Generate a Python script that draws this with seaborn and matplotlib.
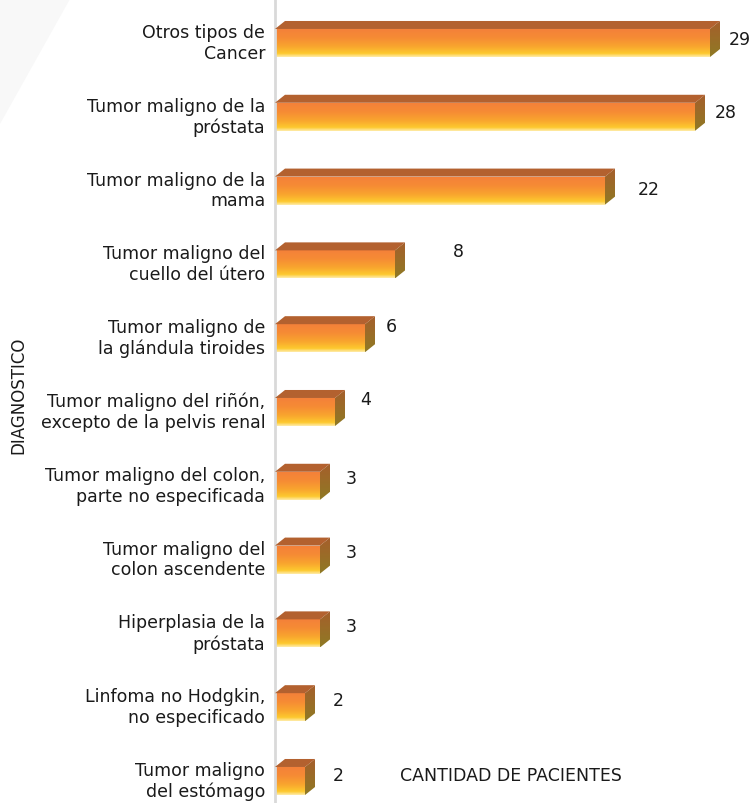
import numpy as np
import matplotlib
matplotlib.use("Agg")
import matplotlib.pyplot as plt
import matplotlib.transforms as mtransforms
from matplotlib.patches import Polygon
from matplotlib.colors import LinearSegmentedColormap
import seaborn as sns
import pandas as pd

# data
diagnosticos = [
    "Otros tipos de\nCancer",
    "Tumor maligno de la\npróstata",
    "Tumor maligno de la\nmama",
    "Tumor maligno del\ncuello del útero",
    "Tumor maligno de\nla glándula tiroides",
    "Tumor maligno del riñón,\nexcepto de la pelvis renal",
    "Tumor maligno del colon,\nparte no especificada",
    "Tumor maligno del\ncolon ascendente",
    "Hiperplasia de la\npróstata",
    "Linfoma no Hodgkin,\nno especificado",
    "Tumor maligno\ndel estómago",
]
pacientes = [29, 28, 22, 8, 6, 4, 3, 3, 3, 2, 2]

# where the value labels sit (offset from bar end, in data units)
label_dx = [1.27, 1.33, 2.2, 3.87, 1.4, 1.67, 1.73, 1.73, 1.73, 1.87, 1.87]
label_dy = [-0.06, -0.06, -0.02, -0.18, -0.16, -0.17, -0.1, -0.1, -0.1, -0.1, -0.08]

df = pd.DataFrame({"diagnostico": diagnosticos, "pacientes": pacientes})

sns.set_style("white")
plt.rcParams["font.family"] = ["DejaVu Sans"]

fig = plt.figure(figsize=(7.54, 8.04), dpi=100)
# faint grey wash in the top-left corner
fig.patches.append(Polygon([[0, 1], [70 / 754, 1], [0, 1 - 125 / 804]], closed=True,
                           transform=fig.transFigure, facecolor="#f8f8f8",
                           edgecolor="none", zorder=0))

ax = fig.add_axes([275 / 754, 0, 479 / 754, 1])
ax.patch.set_alpha(0)

sns.barplot(data=df, x="pacientes", y="diagnostico", orient="h",
            width=0.38, color="#F58A35", ax=ax)

xmax = 479 / 15
ax.set_xlim(0, xmax)
ax.set_ylim(10 + 22 / 73.8, -44 / 73.8)

dx = 10 / 15        # depth of the fake 3d bars
dy = 8 / 73.8

front_cmap = LinearSegmentedColormap.from_list(
    "front", [(0, "#F4803A"), (0.35, "#F68C34"), (0.65, "#F9A72E"),
              (0.88, "#FDC92F"), (1, "#FFEBA8")])
side_cmap = LinearSegmentedColormap.from_list("side", ["#A65E2C", "#8F7A24"])
grad = np.linspace(0, 1, 100).reshape(-1, 1)

for i, bar in enumerate(list(ax.patches)):
    x0, y0 = bar.get_x(), bar.get_y()
    w, h = bar.get_width(), bar.get_height()
    x1, y1 = x0 + w, y0 + h
    bar.set_facecolor("none")
    bar.set_edgecolor("none")
    im = ax.imshow(grad, extent=[x0, x1, y1, y0], aspect="auto",
                   cmap=front_cmap, zorder=2)
    im.set_clip_path(bar)
    top = Polygon([[x0, y0], [x0 + dx, y0 - dy], [x1 + dx, y0 - dy], [x1, y0]],
                  closed=True, facecolor="#B3612F", edgecolor="none", zorder=3)
    ax.add_patch(top)
    side = Polygon([[x1, y0], [x1 + dx, y0 - dy], [x1 + dx, y1 - dy], [x1, y1]],
                   closed=True, facecolor="none", edgecolor="none", zorder=3)
    ax.add_patch(side)
    im2 = ax.imshow(grad, extent=[x1, x1 + dx, y1, y0 - dy], aspect="auto",
                    cmap=side_cmap, zorder=3)
    im2.set_clip_path(side)
    ax.text(x1 + label_dx[i], (y0 + y1) / 2 + label_dy[i], str(pacientes[i]),
            ha="left", va="center", fontsize=12.5, color="#1a1a1a")

ax.set_xlim(0, xmax)
ax.set_ylim(10 + 22 / 73.8, -44 / 73.8)

ax.set_xticks([])
ax.tick_params(axis="y", length=0, pad=7, labelsize=12.5, labelcolor="#1a1a1a")
# nudge the category labels up a few pixels, as in the original
shift = mtransforms.ScaledTranslation(0, 4 / 100, fig.dpi_scale_trans)
for lab in ax.get_yticklabels():
    lab.set_horizontalalignment("right")
    lab.set_multialignment("right")
    lab.set_linespacing(1.2)
    lab.set_transform(lab.get_transform() + shift)

for s in ["top", "right", "bottom"]:
    ax.spines[s].set_visible(False)
ax.spines["left"].set_color("#d9d9d9")
ax.spines["left"].set_linewidth(2)

ax.set_xlabel("")
ax.set_ylabel("DIAGNOSTICO", fontsize=12, color="#1a1a1a")
ax.yaxis.set_label_coords((27 - 275) / 479, 1 - 395 / 804)
ax.text((511 - 275) / 479, 1 - 776 / 804, "CANTIDAD DE PACIENTES",
        transform=ax.transAxes, ha="center", va="center", fontsize=12.5,
        color="#1a1a1a")

fig.savefig("out.png", dpi=100)
